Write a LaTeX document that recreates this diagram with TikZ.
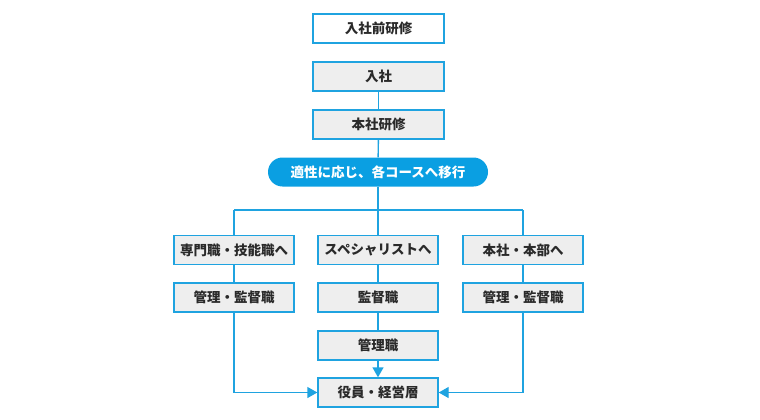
\documentclass[tikz,border=0pt]{standalone}
\usepackage{fontspec}
\setmainfont{Noto Sans CJK JP}
\usetikzlibrary{arrows.meta}
\definecolor{bline}{HTML}{1FA3E0}
\definecolor{pillc}{HTML}{0A9FE2}
\definecolor{boxg}{HTML}{EEEEEE}
\definecolor{txt}{HTML}{2A2A2A}
\begin{document}
\begin{tikzpicture}[x=1pt,y=-1pt,
  box/.style={draw=bline,line width=1.4pt,fill=boxg,minimum height=29pt,inner sep=0pt,
    font=\fontsize{13.5}{15}\selectfont\bfseries,text=txt},
  wbox/.style={box,fill=white},
  pill/.style={fill=pillc,rounded corners=14.5pt,minimum width=220pt,minimum height=29pt,inner sep=0pt,
    font=\fontsize{13.5}{15}\selectfont\bfseries,text=white},
  conn/.style={draw=bline,line width=1.4pt},
  arr/.style={conn,-{Triangle[width=11pt,length=10pt]}}]
\useasboundingbox (0,0) rectangle (760,420);
\node[wbox,minimum width=131pt] (pre) at (378.5,28.5) {入社前研修};
\node[box,minimum width=131pt] (join) at (378.5,76.5) {入社};
\node[box,minimum width=131pt] (hq) at (378.5,124.5) {本社研修};
\node[pill] (move) at (378,172) {適性に応じ、各コースへ移行};
\node[box,minimum width=120pt] (l1) at (234,250) {専門職・技能職へ};
\node[box,minimum width=120pt] (m1) at (378,250) {スペシャリストへ};
\node[box,minimum width=120pt] (r1) at (523,250) {本社・本部へ};
\node[box,minimum width=120pt] (l2) at (234,297.5) {管理・監督職};
\node[box,minimum width=120pt] (m2) at (378,297.5) {監督職};
\node[box,minimum width=120pt] (r2) at (523,297.5) {管理・監督職};
\node[box,minimum width=120pt] (m3) at (378,345.5) {管理職};
\node[box,minimum width=120pt] (fin) at (378,392.5) {役員・経営層};
\coordinate (hl) at (234,210);
\coordinate (hr) at (523,210);
\coordinate (hm) at (378,210);
\draw[conn] (join) -- (hq);
\draw[conn] (hq) -- (move);
\draw[conn] (move.south) -- (hm);
\draw[conn] (hl) -- (hr);
\draw[conn] (hl) -- (l1);
\draw[conn] (hm) -- (m1);
\draw[conn] (hr) -- (r1);
\draw[conn] (l1) -- (l2);
\draw[conn] (m1) -- (m2);
\draw[conn] (r1) -- (r2);
\draw[conn] (m2) -- (m3);
\draw[arr] (m3) -- (fin);
\draw[arr] (l2.south) |- (fin.west);
\draw[arr] (r2.south) |- (fin.east);
\end{tikzpicture}
\end{document}
